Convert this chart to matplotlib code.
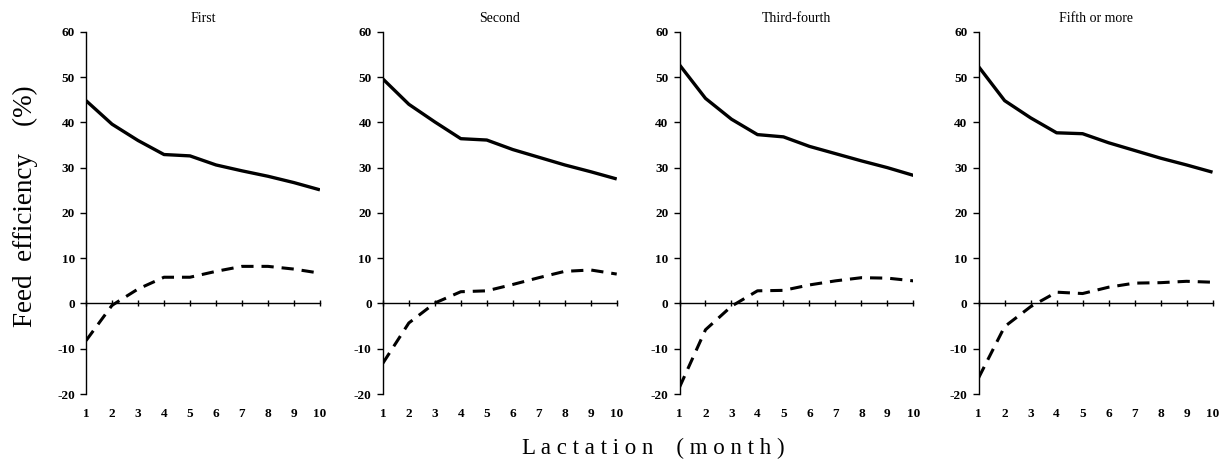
# Feed efficiency over lactation, by parity group (4 panels)

import matplotlib
matplotlib.use('Agg')
import matplotlib.pyplot as plt

plt.rcParams['font.family'] = ['Liberation Serif', 'DejaVu Serif']
plt.rcParams['axes.unicode_minus'] = False

months = [1, 2, 3, 4, 5, 6, 7, 8, 9, 10]
panel_titles = ['First', 'Second', 'Third-fourth', 'Fifth or more']

# solid line (upper curve)
first_solid = [44.8, 39.6, 36.0, 32.9, 32.6, 30.6, 29.3, 28.1, 26.7, 25.1]
second_solid = [49.6, 44.0, 40.1, 36.4, 36.1, 34.0, 32.3, 30.6, 29.1, 27.5]
third_solid = [52.7, 45.3, 40.7, 37.3, 36.8, 34.7, 33.1, 31.5, 30.0, 28.3]
fifth_solid = [52.3, 44.8, 41.0, 37.7, 37.5, 35.5, 33.8, 32.1, 30.6, 29.0]

# dashed line (lower curve)
first_dash = [-8.2, -0.4, 3.2, 5.8, 5.8, 7.1, 8.2, 8.2, 7.6, 6.7]
second_dash = [-13.2, -4.3, 0.1, 2.6, 2.8, 4.2, 5.7, 7.1, 7.4, 6.5]
third_dash = [-18.5, -5.8, -0.6, 2.8, 2.9, 4.1, 5.0, 5.7, 5.6, 5.0]
fifth_dash = [-16.4, -5.1, -0.7, 2.5, 2.2, 3.6, 4.5, 4.6, 4.9, 4.7]

solids = [first_solid, second_solid, third_solid, fifth_solid]
dashes = [first_dash, second_dash, third_dash, fifth_dash]

yticks = [-20, -10, 0, 10, 20, 30, 40, 50, 60]

fig = plt.figure(figsize=(12.31, 4.68), dpi=100)
lefts = [0.0699, 0.311, 0.552, 0.795]

for i in range(4):
    ax = fig.add_axes([lefts[i], 0.158, 0.190, 0.774])
    ax.plot(months, solids[i], color='black', lw=2.4, solid_capstyle='butt')
    ax.plot(months, dashes[i], color='black', lw=2.2, dashes=(4, 2.6))
    ax.set_xlim(1, 10)
    ax.set_ylim(-20, 60)
    ax.set_yticks(yticks)
    ax.set_xticks(months)

    for s in ['top', 'right']:
        ax.spines[s].set_visible(False)
    # bottom spine drawn as the zero line
    ax.spines['bottom'].set_position(('data', 0))
    ax.spines['bottom'].set_linewidth(1.0)
    ax.spines['left'].set_linewidth(1.0)
    ax.tick_params(axis='x', direction='inout', length=5, width=1, labelbottom=False)
    ax.tick_params(axis='y', direction='out', length=4, width=1, labelsize=9.5, pad=4)
    for lab in ax.get_yticklabels():
        lab.set_fontweight('bold')

    # month labels at the bottom of the panel
    sec = ax.secondary_xaxis(0.0)
    sec.set_xticks(months)
    sec.tick_params(length=0, labelsize=9.5, pad=10)
    sec.spines['bottom'].set_visible(False)
    for lab in sec.get_xticklabels():
        lab.set_fontweight('bold')

    ax.set_title(panel_titles[i], fontsize=10, pad=7)

fig.text(0.021, 0.56, 'Feed  efficiency    (%)', rotation=90, fontsize=19.5,
         ha='center', va='center')
fig.text(0.531, 0.042, 'L a c t a t i o n    ( m o n t h )', fontsize=16.5,
         ha='center', va='center')

fig.savefig('out.png', dpi=100)
